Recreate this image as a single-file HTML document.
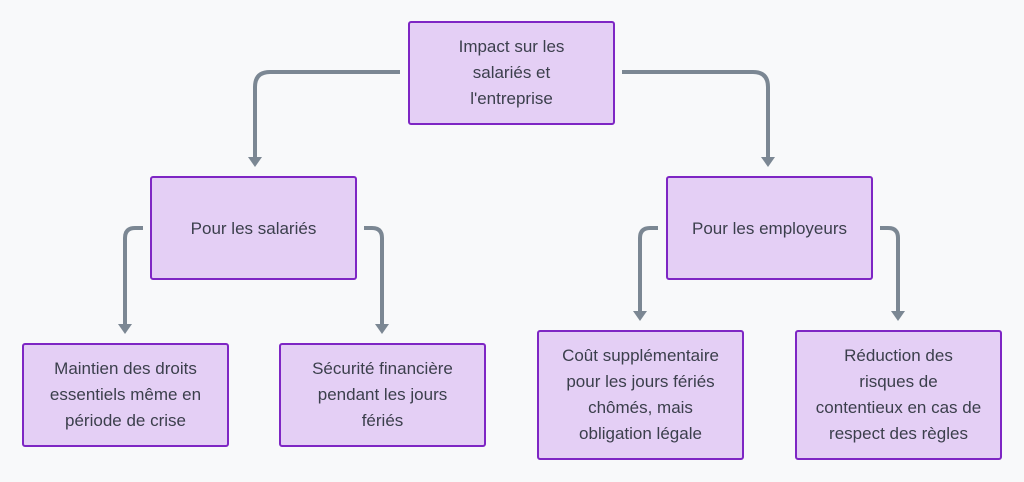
<!DOCTYPE html>
<html><head><meta charset="utf-8"><style>
body{margin:0;width:1024px;height:482px;background:#f8f9fa;position:relative;overflow:hidden;font-family:"Liberation Sans","DejaVu Sans",sans-serif}
.b{position:absolute;box-sizing:border-box;background:#e4cff5;border:2px solid #7e26c4;border-radius:3px;display:flex;align-items:center;justify-content:center;text-align:center;color:#3b3f4c;font-size:17px;line-height:26px;padding:0 4px;white-space:nowrap}
svg{position:absolute;left:0;top:0}
</style></head><body>
<svg width="1024" height="482">
<g fill="none" stroke="#7b8793" stroke-width="4">
<path d="M400 72 H270 Q255 72 255 87 V158"/>
<path d="M622 72 H753 Q768 72 768 87 V158"/>
<path d="M143 228 H135 Q125 228 125 238 V325"/>
<path d="M364 228 H372 Q382 228 382 238 V325"/>
<path d="M658 228 H650 Q640 228 640 238 V312"/>
<path d="M880 228 H888 Q898 228 898 238 V312"/>
</g>
<g fill="#7b8793">
<path d="M248 157 L262 157 L255 167Z"/>
<path d="M761 157 L775 157 L768 167Z"/>
<path d="M118 324 L132 324 L125 334Z"/>
<path d="M375 324 L389 324 L382 334Z"/>
<path d="M633 311 L647 311 L640 321Z"/>
<path d="M891 311 L905 311 L898 321Z"/>
</g>
</svg>
<div class="b" style="left:408px;top:21px;width:207px;height:104px">Impact sur les<br>salariés et<br>l'entreprise</div>
<div class="b" style="left:150px;top:176px;width:207px;height:104px;align-items:flex-start;padding-top:38px">Pour les salariés</div>
<div class="b" style="left:666px;top:176px;width:207px;height:104px;align-items:flex-start;padding-top:38px">Pour les employeurs</div>
<div class="b" style="left:22px;top:343px;width:207px;height:104px">Maintien des droits<br>essentiels même en<br>période de crise</div>
<div class="b" style="left:279px;top:343px;width:207px;height:104px">Sécurité financière<br>pendant les jours<br>fériés</div>
<div class="b" style="left:537px;top:330px;width:207px;height:130px">Coût supplémentaire<br>pour les jours fériés<br>chômés, mais<br>obligation légale</div>
<div class="b" style="left:795px;top:330px;width:207px;height:130px">Réduction des<br>risques de<br>contentieux en cas de<br>respect des règles</div>
</body></html>
